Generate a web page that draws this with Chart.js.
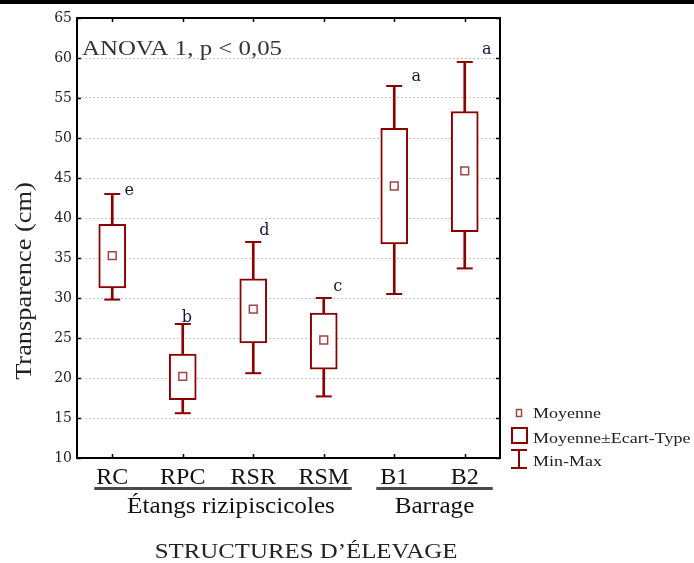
<!DOCTYPE html>
<html>
<head>
<meta charset="utf-8">
<script src="https://cdn.jsdelivr.net/npm/chart.js@4.4.0/dist/chart.umd.min.js"></script>
<style>
html,body{margin:0;padding:0;background:#fff;}
#wrap{position:relative;width:694px;height:563px;}
canvas{display:block;}
</style>
</head>
<body>
<div id="wrap"><canvas id="c" width="694" height="563"></canvas></div>
<script>
// ---- data ----
const categories = ['RC', 'RPC', 'RSR', 'RSM', 'B1', 'B2'];
const means  = [35.3, 20.2, 28.6, 24.75, 44.0, 45.9];
const sdLow  = [31.25, 17.3, 24.4, 21.1, 36.75, 38.3];
const sdHigh = [39.2, 23.0, 32.4, 28.1, 51.2, 53.3];
const mins   = [29.8, 15.6, 20.6, 17.7, 30.5, 33.7];
const maxs   = [43.0, 26.75, 37.0, 30.0, 56.5, 59.5];
const letters = ['e', 'b', 'd', 'c', 'a', 'a'];
const groupLabels = ['Étangs rizipiscicoles', 'Barrage'];
const groupFirst = [0, 4];
const groupLast  = [3, 5];
const yMin = 10, yMax = 65, yStep = 5;
const anovaText = 'ANOVA 1, p < 0,05';
const yTitle = 'Transparence (cm)';
const xTitle = 'STRUCTURES D\u2019ÉLEVAGE';
const legendLabels = ['Moyenne', 'Moyenne±Ecart-Type', 'Min-Max'];

const RED = '#8B0000';
const MEANC = '#A04545';
const SERIF = '"Liberation Serif", "Times New Roman", serif';

// draw text horizontally stretched (the reference text is slightly wide)
function wideText(ctx, txt, x, y, sx, align) {
  ctx.save();
  ctx.translate(x, y);
  ctx.scale(sx, 1);
  ctx.textAlign = align;
  ctx.fillText(txt, 0, 0);
  ctx.restore();
}

const annotate = {
  id: 'annotate',
  beforeDraw(chart) {
    const ctx = chart.ctx;
    ctx.save();
    ctx.fillStyle = '#fff';
    ctx.fillRect(0, 0, chart.width, chart.height);
    ctx.fillStyle = '#000';
    ctx.fillRect(0, 0, chart.width, 4);
    ctx.restore();
  },
  afterDraw(chart, args, opts) {
    const ctx = chart.ctx;
    const a = chart.chartArea;
    const xs = chart.scales.x, ys = chart.scales.y;
    ctx.save();
    // frame
    ctx.strokeStyle = '#000';
    ctx.lineWidth = 2;
    ctx.strokeRect(a.left, a.top, a.right - a.left, a.bottom - a.top);
    // inward ticks
    ctx.lineWidth = 1.5;
    ctx.beginPath();
    for (let v = yMin; v <= yMax; v += yStep) {
      const y = Math.round(ys.getPixelForValue(v)) + 0.5;
      ctx.moveTo(a.left, y); ctx.lineTo(a.left + 4, y);
      ctx.moveTo(a.right, y); ctx.lineTo(a.right - 4, y);
    }
    categories.forEach((c, i) => {
      const x = Math.round(xs.getPixelForValue(i)) + 0.5;
      ctx.moveTo(x, a.top); ctx.lineTo(x, a.top + 4);
      ctx.moveTo(x, a.bottom); ctx.lineTo(x, a.bottom - 4);
    });
    ctx.stroke();

    // significance letters
    ctx.fillStyle = '#16163c';
    ctx.font = '16px "DejaVu Serif", serif';
    ctx.textAlign = 'center';
    ctx.textBaseline = 'middle';
    letters.forEach((l, i) => {
      const n = opts.letterNudge[i];
      ctx.fillText(l, xs.getPixelForValue(i) + n[0], ys.getPixelForValue(maxs[i]) + n[1]);
    });

    // ANOVA text
    ctx.fillStyle = '#333';
    ctx.font = '22px ' + SERIF;
    ctx.textBaseline = 'alphabetic';
    wideText(ctx, anovaText, a.left + 5, 55, 1.13, 'left');

    // y title
    ctx.save();
    ctx.translate(25, 281);
    ctx.rotate(-Math.PI / 2);
    ctx.fillStyle = '#222';
    ctx.font = '24px ' + SERIF;
    ctx.textBaseline = 'middle';
    wideText(ctx, yTitle, 0, 0, 1.1, 'center');
    ctx.restore();

    // group underlines and labels
    groupLabels.forEach((g, k) => {
      const x0 = xs.getPixelForValue(groupFirst[k]) - 18;
      const x1 = xs.getPixelForValue(groupLast[k]) + 28;
      ctx.fillStyle = '#4a4a4a';
      ctx.fillRect(x0, 487, x1 - x0, 3);
      ctx.fillStyle = '#111';
      ctx.font = '24px ' + SERIF;
      ctx.textBaseline = 'alphabetic';
      wideText(ctx, g, (x0 + x1) / 2 + opts.groupNudge[k], 513, 1.05, 'center');
    });

    // x title
    ctx.fillStyle = '#222';
    ctx.font = '22px ' + SERIF;
    ctx.textBaseline = 'alphabetic';
    wideText(ctx, xTitle, 306, 558, 1.13, 'center');

    // legend
    ctx.strokeStyle = MEANC;
    ctx.lineWidth = 1.5;
    ctx.strokeRect(516.5, 409.5, 5, 7);
    ctx.strokeStyle = RED;
    ctx.lineWidth = 2;
    ctx.strokeRect(512, 428, 15, 15);
    ctx.beginPath();
    ctx.moveTo(511, 450); ctx.lineTo(527, 450);
    ctx.moveTo(519, 450); ctx.lineTo(519, 468);
    ctx.moveTo(511, 468); ctx.lineTo(527, 468);
    ctx.stroke();
    ctx.fillStyle = '#222';
    ctx.font = '15px ' + SERIF;
    ctx.textBaseline = 'alphabetic';
    wideText(ctx, legendLabels[0], 533, 418, 1.2, 'left');
    wideText(ctx, legendLabels[1], 533, 443, 1.2, 'left');
    wideText(ctx, legendLabels[2], 533, 466, 1.2, 'left');
    ctx.restore();
  }
};

new Chart(document.getElementById('c'), {
  type: 'bar',
  data: {
    labels: categories,
    datasets: [
      {
        type: 'bar',
        label: 'Min-Max',
        data: mins.map((m, i) => [m, maxs[i]]),
        backgroundColor: RED,
        borderWidth: 0,
        barThickness: 2,
        grouped: false,
        order: 5
      },
      {
        type: 'bar',
        label: 'Moyenne±Ecart-Type',
        data: sdLow.map((l, i) => [l, sdHigh[i]]),
        backgroundColor: '#ffffff',
        borderColor: RED,
        borderWidth: 2,
        borderSkipped: false,
        barThickness: 27,
        grouped: false,
        order: 4
      },
      {
        type: 'line',
        label: 'Max',
        data: maxs,
        showLine: false,
        pointStyle: 'line',
        pointRadius: 8,
        pointBorderWidth: 2,
        pointBorderColor: RED,
        order: 3
      },
      {
        type: 'line',
        label: 'Min',
        data: mins,
        showLine: false,
        pointStyle: 'line',
        pointRadius: 8,
        pointBorderWidth: 2,
        pointBorderColor: RED,
        order: 2
      },
      {
        type: 'line',
        label: 'Moyenne',
        data: means,
        showLine: false,
        pointStyle: 'rect',
        pointRadius: 5.5,
        pointBorderWidth: 1.5,
        pointBorderColor: MEANC,
        pointBackgroundColor: '#ffffff',
        order: 1
      }
    ]
  },
  options: {
    responsive: false,
    animation: false,
    devicePixelRatio: 1,
    layout: { padding: { top: 18, right: 194, left: 0, bottom: 0 } },
    plugins: {
      legend: { display: false },
      tooltip: { enabled: false },
      annotate: {
        letterNudge: [[17, -3], [4, -6], [11, -11], [14, -11], [22, -9], [22, -12]],
        groupNudge: [8, 0]
      }
    },
    scales: {
      x: {
        type: 'category',
        offset: true,
        grid: { display: false, drawTicks: false },
        border: { display: false },
        ticks: {
          color: '#111',
          font: { family: SERIF, size: 24 },
          padding: 5,
          maxRotation: 0,
          autoSkip: false
        },
        afterFit(s) { s.height = 105; }
      },
      y: {
        min: yMin,
        max: yMax,
        grid: { color: '#c4c4c4', lineWidth: 1, drawTicks: false },
        border: { display: false, dash: [2, 2] },
        ticks: {
          stepSize: yStep,
          color: '#222',
          font: { family: '"DejaVu Serif", serif', size: 14 },
          padding: 5
        },
        afterFit(s) { s.width = 77; }
      }
    }
  },
  plugins: [annotate]
});
</script>
</body>
</html>
